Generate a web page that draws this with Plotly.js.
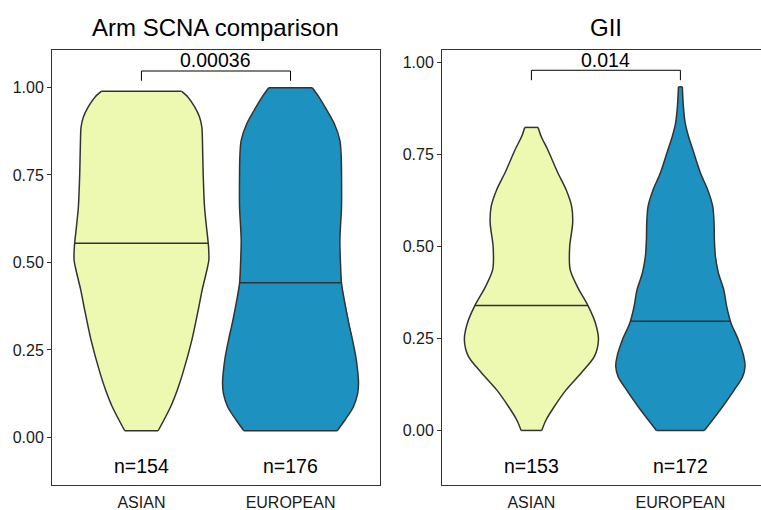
<!DOCTYPE html>
<html>
<head>
<meta charset="utf-8">
<script src="https://cdn.plot.ly/plotly-3.0.1.min.js"></script>
<style>html,body{margin:0;padding:0;background:#fff;}#chart{width:761px;height:510px;}</style>
</head>
<body>
<div id="chart"></div>
<script>
// ---- data ----
const categories = ["ASIAN", "EUROPEAN"];
const panelTitles = ["Arm SCNA comparison", "GII"];
const pValues = ["0.00036", "0.014"];
const nLabels = [["n=154", "n=176"], ["n=153", "n=172"]];
const yTicks = [0, 0.25, 0.5, 0.75, 1.0];

// violin profiles: y level and half-width (in category units)
const armAsianY = [0.019,0.087,0.135,0.183,0.278,0.373,0.421,0.469,0.507,0.545,0.602,0.659,0.754,0.849,0.887,0.916,0.945,0.973,0.989];
const armAsianW = [0.112,0.195,0.240,0.277,0.338,0.385,0.407,0.434,0.452,0.450,0.436,0.423,0.414,0.409,0.405,0.389,0.356,0.311,0.270];
const armEuroY = [0.019,0.049,0.087,0.125,0.154,0.183,0.230,0.278,0.326,0.373,0.440,0.487,0.564,0.659,0.754,0.802,0.849,0.897,0.945,0.973,0.999];
const armEuroW = [0.313,0.364,0.421,0.450,0.456,0.452,0.438,0.416,0.391,0.369,0.342,0.336,0.331,0.342,0.342,0.340,0.331,0.293,0.230,0.190,0.146];
const giiAsianY = [0.001,0.030,0.066,0.111,0.157,0.202,0.247,0.292,0.337,0.392,0.437,0.500,0.564,0.609,0.654,0.700,0.763,0.799,0.823];
const giiAsianW = [0.069,0.099,0.154,0.233,0.334,0.423,0.450,0.430,0.383,0.307,0.260,0.257,0.277,0.270,0.233,0.177,0.109,0.065,0.045];
const giiEuroY = [0.001,0.030,0.066,0.111,0.147,0.175,0.202,0.247,0.292,0.337,0.383,0.428,0.473,0.519,0.564,0.609,0.654,0.700,0.763,0.799,0.835,0.880,0.933];
const giiEuroW = [0.161,0.217,0.284,0.362,0.418,0.434,0.425,0.389,0.340,0.311,0.291,0.255,0.235,0.228,0.226,0.217,0.183,0.134,0.083,0.054,0.032,0.020,0.013];

const armMedians = [0.555, 0.442];
const giiMedians = [0.340, 0.297];
const armBracket = [1.019, 1.047];   // leg end, top
const giiBracket = [0.951, 0.978];
const armLabelY = { p: 1.078, n: -0.083 };
const giiLabelY = { p: 1.007, n: -0.096 };

const fills = ["#EDF8B1", "#1D91C0"];
const outline = "#333333";
const font = "Liberation Sans, Arial, Helvetica, sans-serif";

function interp(ys, ws, y) {
  for (let i = 0; i < ys.length - 1; i++) {
    if (y >= ys[i] && y <= ys[i+1]) {
      const t = (y - ys[i]) / (ys[i+1] - ys[i]);
      return ws[i] + t * (ws[i+1] - ws[i]);
    }
  }
  return ws[ws.length-1];
}

const traces = [];
function addViolin(ys, ws, pos, color, median, xa, ya) {
  const n = ys.length;
  const right = ys.map((v, i) => pos + ws[i]);
  const left = ys.map((v, i) => pos - ws[i]);
  // fill polygon
  const fx = right.concat(left.slice().reverse(), [right[0]]);
  const fy = ys.concat(ys.slice().reverse(), [ys[0]]);
  traces.push({type:"scatter", mode:"lines", x:fx, y:fy, xaxis:xa, yaxis:ya,
    fill:"toself", fillcolor:color, line:{width:0, color:color},
    hoverinfo:"skip", showlegend:false});
  // smooth sides
  [right, left].forEach(side => traces.push({type:"scatter", mode:"lines", x:side, y:ys, xaxis:xa, yaxis:ya,
    line:{color:outline, width:1.5, shape:"spline", smoothing:0.8}, hoverinfo:"skip", showlegend:false}));
  // flat trimmed ends
  traces.push({type:"scatter", mode:"lines",
    x:[left[0], right[0], null, left[n-1], right[n-1]],
    y:[ys[0], ys[0], null, ys[n-1], ys[n-1]], xaxis:xa, yaxis:ya,
    line:{color:outline, width:1.5}, hoverinfo:"skip", showlegend:false});
  const mw = interp(ys, ws, median);
  traces.push({type:"scatter", mode:"lines", x:[pos-mw, pos+mw], y:[median, median], xaxis:xa, yaxis:ya,
    line:{color:outline, width:1.5}, hoverinfo:"skip", showlegend:false});
}
function addBracket(br, xa, ya) {
  traces.push({type:"scatter", mode:"lines", x:[1,1,2,2], y:[br[0],br[1],br[1],br[0]], xaxis:xa, yaxis:ya,
    line:{color:"#000", width:1}, hoverinfo:"skip", showlegend:false});
}

addViolin(armAsianY, armAsianW, 1, fills[0], armMedians[0], "x", "y");
addViolin(armEuroY, armEuroW, 2, fills[1], armMedians[1], "x", "y");
addBracket(armBracket, "x", "y");
addViolin(giiAsianY, giiAsianW, 1, fills[0], giiMedians[0], "x2", "y2");
addViolin(giiEuroY, giiEuroW, 2, fills[1], giiMedians[1], "x2", "y2");
addBracket(giiBracket, "x2", "y2");

const annotations = [];
function panelText(xr, yr, labels, p, n) {
  annotations.push({xref:xr, yref:yr, x:1.5, y:labels.p, text:p, showarrow:false,
    font:{family:font, size:19.5, color:"#000"}, xanchor:"center", yanchor:"middle"});
  [0,1].forEach(i => annotations.push({xref:xr, yref:yr, x:i+1, y:labels.n, text:n[i], showarrow:false,
    font:{family:font, size:19.5, color:"#000"}, xanchor:"center", yanchor:"middle"}));
}
panelText("x", "y", armLabelY, pValues[0], nLabels[0]);
panelText("x2", "y2", giiLabelY, pValues[1], nLabels[1]);
annotations.push({xref:"x domain", yref:"paper", x:0.5, y:1.052, text:panelTitles[0], showarrow:false,
  font:{family:font, size:24, color:"#000"}, xanchor:"center", yanchor:"middle"});
annotations.push({xref:"x2", yref:"paper", x:1.5, y:1.052, text:panelTitles[1], showarrow:false,
  font:{family:font, size:24, color:"#000"}, xanchor:"center", yanchor:"middle"});

const xCommon = {tickmode:"array", tickvals:[1,2], ticktext:categories, ticks:"outside", ticklen:3,
  tickcolor:"rgba(0,0,0,0)", showgrid:false, zeroline:false, showline:true, linecolor:outline, linewidth:1,
  mirror:true, tickfont:{family:font, size:16, color:"#1a1a1a"}, fixedrange:true};
const yCommon = {tickmode:"array", tickvals:yTicks, ticktext:yTicks.map(v=>v.toFixed(2)), ticks:"outside",
  ticklen:4, tickcolor:outline, showgrid:false, zeroline:false, showline:true, linecolor:outline, linewidth:1,
  tickfont:{family:font, size:16, color:"#1a1a1a"}, fixedrange:true};

const layout = {
  width:761, height:510,
  margin:{l:52, r:0, t:50, b:25},
  paper_bgcolor:"#fff", plot_bgcolor:"#fff",
  showlegend:false,
  xaxis: Object.assign({}, xCommon, {domain:[0, 0.4626], range:[0.4, 2.6]}),
  yaxis: Object.assign({}, yCommon, {range:[-0.136, 1.107], mirror:true}),
  xaxis2: Object.assign({}, xCommon, {domain:[0.5501, 1], range:[0.4, 2.541], anchor:"y2"}),
  yaxis2: Object.assign({}, yCommon, {range:[-0.147, 1.033], anchor:"x2", mirror:false}),
  annotations: annotations
};

Plotly.newPlot("chart", traces, layout, {displayModeBar:false, staticPlot:true});
</script>
</body>
</html>
